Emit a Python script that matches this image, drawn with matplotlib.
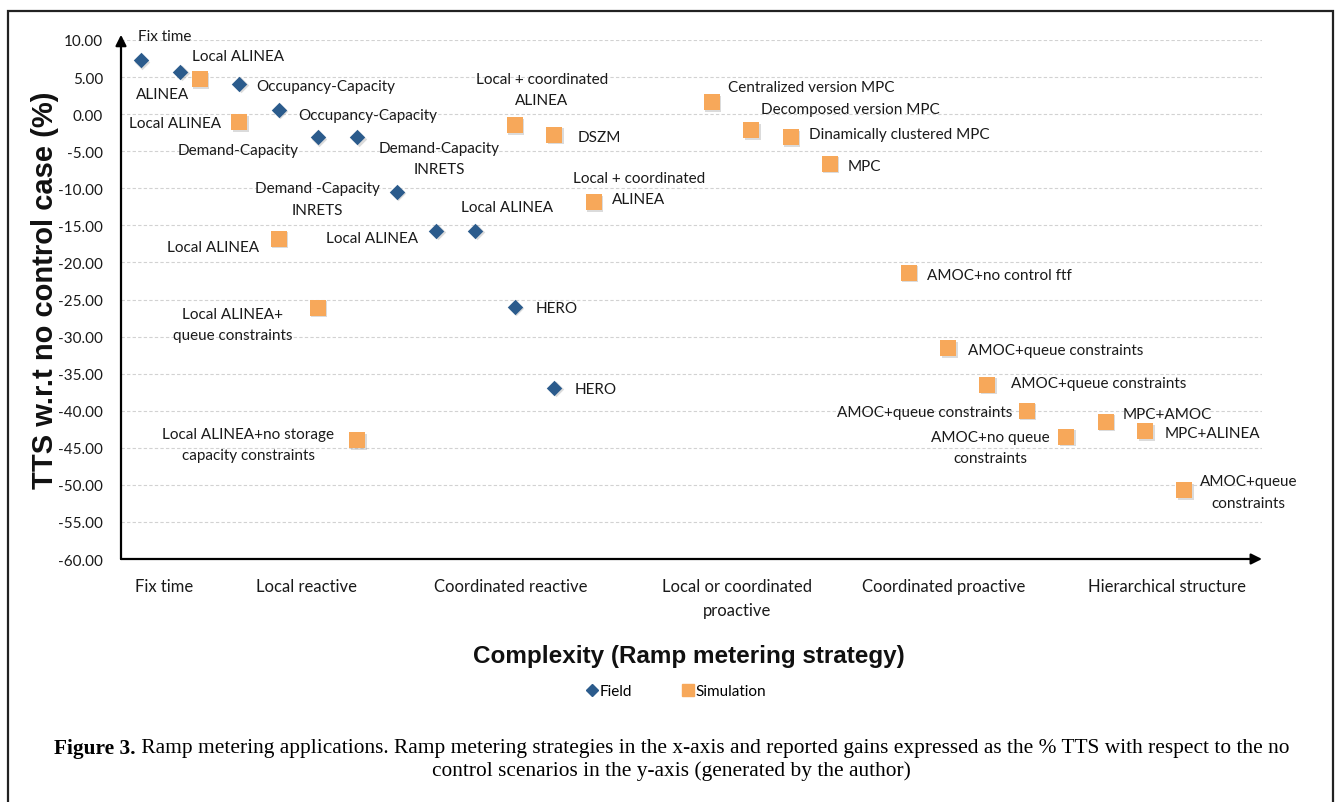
import matplotlib
matplotlib.use("Agg")
import matplotlib.pyplot as plt
from matplotlib import font_manager
from matplotlib.lines import Line2D
from matplotlib.patches import Rectangle
import matplotlib.transforms as mtransforms

# ---------------- data ----------------
field_x = [1, 2, 3.5, 4.5, 5.5, 6.5, 7.5, 8.5, 9.5, 10.5, 11.5]
field_y = [7.3, 5.7, 4.1, 0.6, -3.1, -3.1, -10.5, -15.7, -15.7, -26.0, -36.9]
field_labels = ["Fix time", "ALINEA", "Occupancy-Capacity", "Occupancy-Capacity",
                "Demand-Capacity", "Demand-Capacity\nINRETS", "Demand -Capacity\nINRETS",
                "Local ALINEA", "Local ALINEA", "HERO", "HERO"]

sim_x = [2.5, 3.5, 4.5, 5.5, 6.5, 10.5, 11.5, 12.5, 15.5, 16.5, 17.5, 18.5,
         20.5, 21.5, 22.5, 23.5, 24.5, 25.5, 26.5, 27.5]
sim_y = [4.7, -1.1, -16.8, -26.1, -44.0, -1.5, -2.8, -11.9, 1.6, -2.2, -3.1, -6.7,
         -21.4, -31.6, -36.5, -40.0, -43.5, -41.5, -42.8, -50.7]
sim_labels = ["Local ALINEA", "Local ALINEA", "Local ALINEA",
              "Local ALINEA+\nqueue constraints",
              "Local ALINEA+no storage\ncapacity constraints",
              "Local + coordinated\nALINEA", "DSZM", "Local + coordinated\nALINEA",
              "Centralized version MPC", "Decomposed version MPC",
              "Dinamically clustered MPC", "MPC", "AMOC+no control ftf",
              "AMOC+queue constraints", "AMOC+queue constraints",
              "AMOC+queue constraints", "AMOC+no queue\nconstraints",
              "MPC+AMOC", "MPC+ALINEA", "AMOC+queue\nconstraints"]

category_pos = [1.6, 5.2, 10.4, 16.15, 21.4, 27.05]
category_labels = ["Fix time", "Local reactive", "Coordinated reactive",
                   "Local or coordinated\nproactive", "Coordinated proactive",
                   "Hierarchical structure"]
y_ticks = [10, 5, 0, -5, -10, -15, -20, -25, -30, -35, -40, -45, -50, -55, -60]

legend_labels = ["Field", "Simulation"]
y_title = "TTS w.r.t no control case (%)"
x_title = "Complexity (Ramp metering strategy)"
caption_bold = "Figure 3."
caption_rest = (" Ramp metering applications. Ramp metering strategies in the x-axis and "
                "reported gains expressed as the % TTS with respect to the no")
caption_line2 = "control scenarios in the y-axis (generated by the author)"

# ---------------- label placement (pixel offsets, ha) ----------------
field_label_style = [(24, 24, "center"), (-18, -22, "center"), (17, -2, "left"),
                     (20, -5, "left"), (-19, -13, "right"), (82, -21, "center"),
                     (-79, -7, "center"), (-18, -7, "right"), (32, 24, "center"),
                     (21, -1, "left"), (20, -1, "left")]
sim_label_style = [(38, 23, "center"), (-18, -1, "right"), (-19, -8, "right"),
                   (-85, -17, "center"), (-109, -4, "center"), (27, 36, "center"),
                   (23, -2, "left"), (45, 14, "center"), (16, 15, "left"),
                   (10, 21, "left"), (18, 3, "left"), (18, -2, "left"),
                   (18, -2, "left"), (20, -2, "left"), (24, 2, "left"),
                   (-14, -1, "right"), (-76, -11, "center"), (17, 8, "left"),
                   (20, -2, "left"), (64, -2, "center")]

# ---------------- style ----------------
W, H = 1335, 803
BLUE = "#2B5B8C"
ORANGE = "#F7A85A"
LABEL_FONT = ["Lato", "DejaVu Sans"]
LABEL_SIZE = 11
LINESP = 1.65
TXT = "#1a1a1a"

avail = {f.name for f in font_manager.fontManager.ttflist}
if "Liberation Sans Narrow" in avail:
    xt_family, xt_size = "Liberation Sans Narrow", 21
else:
    xt_family, xt_size = "Liberation Sans", 17.5

fig = plt.figure(figsize=(W / 100, H / 100), dpi=100)
fig.patch.set_facecolor("white")
ax = fig.add_axes([121 / W, 1 - 560 / H, 1141 / W, 519 / H])
ax.set_xlim(0.5, 29.47)
ax.set_ylim(-60, 10)

for s in ax.spines.values():
    s.set_visible(False)

ax.set_yticks(y_ticks)
ax.set_yticklabels([f"{v:.2f}" for v in y_ticks], fontfamily=LABEL_FONT,
                   fontsize=11, color=TXT)
ax.tick_params(axis="y", length=0, pad=13)
ax.set_xticks(category_pos)
ax.set_xticklabels(category_labels, fontfamily=LABEL_FONT, fontsize=12,
                   color=TXT, linespacing=1.55)
ax.tick_params(axis="x", length=0, pad=14)
ax.yaxis.grid(True, linestyle=(0, (3, 2)), color="#d2d2d2", lw=0.8)
ax.set_axisbelow(True)

# axis arrows
ap = dict(arrowstyle="-|>", lw=1.6, color="black", mutation_scale=16,
          shrinkA=0, shrinkB=0)
ax.annotate("", xy=(1.0, 0), xytext=(0, 0), xycoords="axes fraction",
            arrowprops=ap, annotation_clip=False)
ax.annotate("", xy=(0, 1.01), xytext=(0, 0), xycoords="axes fraction",
            arrowprops=ap, annotation_clip=False)

# shadows
sh = mtransforms.offset_copy(ax.transData, fig=fig, x=1.5, y=-1.5, units="dots")
ax.scatter(field_x, field_y, marker="D", s=62, color="#9a9a9a", alpha=0.35,
           lw=0, transform=sh, zorder=2, clip_on=False)
ax.scatter(sim_x, sim_y, marker="s", s=118, color="#9a9a9a", alpha=0.35,
           lw=0, transform=sh, zorder=2, clip_on=False)
ax.scatter(field_x, field_y, marker="D", s=62, color=BLUE, lw=0, zorder=3,
           clip_on=False)
ax.scatter(sim_x, sim_y, marker="s", s=118, color=ORANGE, lw=0, zorder=3,
           clip_on=False)

for x, y, lab, (dx, dy, ha) in zip(field_x, field_y, field_labels, field_label_style):
    ax.annotate(lab, (x, y), xytext=(dx, dy), textcoords="offset pixels",
                ha=ha, va="center", multialignment="center", linespacing=LINESP,
                fontfamily=LABEL_FONT, fontsize=LABEL_SIZE, color=TXT,
                annotation_clip=False)
for x, y, lab, (dx, dy, ha) in zip(sim_x, sim_y, sim_labels, sim_label_style):
    ax.annotate(lab, (x, y), xytext=(dx, dy), textcoords="offset pixels",
                ha=ha, va="center", multialignment="center", linespacing=LINESP,
                fontfamily=LABEL_FONT, fontsize=LABEL_SIZE, color=TXT,
                annotation_clip=False)

# axis titles
fig.text(45 / W, 1 - 290 / H, y_title, rotation=90, ha="center", va="center",
         fontfamily="Liberation Sans", fontweight="bold", fontsize=21, color="#111")
fig.text(689 / W, 1 - 656 / H, x_title, ha="center", va="center",
         fontfamily=xt_family, fontweight="bold", fontsize=xt_size, color="#111")

# legend
handles = [Line2D([], [], marker="D", color=BLUE, ls="", ms=6.5),
           Line2D([], [], marker="s", color=ORANGE, ls="", ms=8.5)]
fig.legend(handles, legend_labels, loc="center", bbox_to_anchor=(677 / W, 1 - 692 / H),
           ncol=2, frameon=False, handlelength=0.5, handletextpad=0.25,
           columnspacing=3.4, prop={"family": LABEL_FONT, "size": 11})

# border
fig.add_artist(Rectangle((7.5 / W, -0.05), (1332.5 - 7.5) / W, 1.05 - 12 / H,
                         transform=fig.transFigure, fill=False, lw=1.6,
                         ec="#222222"))

# caption
fig.canvas.draw()
r = fig.canvas.get_renderer()
cap_size = 13
tb = fig.text(0, 0, caption_bold, fontfamily="Liberation Serif", fontweight="bold",
              fontsize=cap_size, ha="left", va="center", color="black")
tr = fig.text(0, 0, caption_rest, fontfamily="Liberation Serif", fontsize=cap_size,
              ha="left", va="center", color="black")
wb = tb.get_window_extent(r).width
wr = tr.get_window_extent(r).width
scale = 1230 / (wb + wr)
cap_size *= scale
tb.set_fontsize(cap_size)
tr.set_fontsize(cap_size)
wb = tb.get_window_extent(r).width
wr = tr.get_window_extent(r).width
x0 = 672 - (wb + wr) / 2
tb.set_position((x0 / W, 1 - 749 / H))
tr.set_position(((x0 + wb) / W, 1 - 749 / H))
fig.text(671 / W, 1 - 771 / H, caption_line2, fontfamily="Liberation Serif",
         fontsize=cap_size, ha="center", va="center", color="black")

fig.savefig("out.png", dpi=100, facecolor="white")
